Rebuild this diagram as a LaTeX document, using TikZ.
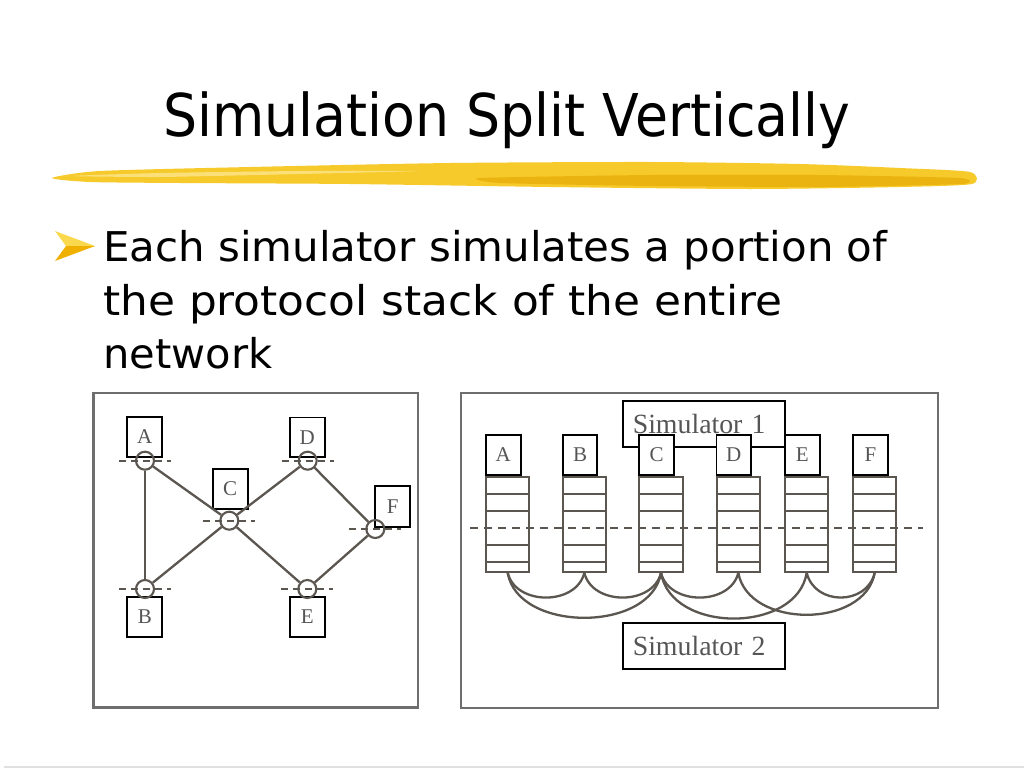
\documentclass[tikz,border=0pt]{standalone}
\usepackage{fontspec}
\usepackage{graphicx}
\setmainfont{Liberation Serif}
\newfontfamily\comicf{DejaVu Sans}
\definecolor{dgray}{HTML}{5B5650}
\definecolor{labgray}{HTML}{555555}
\definecolor{framegray}{HTML}{6E6E6E}
\definecolor{brushA}{HTML}{F6CA2A}
\definecolor{brushB}{HTML}{EBB30F}
\definecolor{brushC}{HTML}{FBE07A}
\definecolor{arrowlight}{HTML}{FAD94E}
\definecolor{arrowdark}{HTML}{EFB000}
\begin{document}
\begin{tikzpicture}[x=1pt,y=-1pt,
  lbox/.style={draw=black, line width=1.9pt, fill=white, minimum width=35pt, minimum height=39.5pt, inner sep=0pt, text=labgray, font=\fontsize{21}{24}\selectfont},
  port/.style={circle, draw=dgray, line width=2.1pt, minimum size=18pt, inner sep=0pt},
  link/.style={draw=dgray, line width=2.3pt},
  cutline/.style={draw=dgray, line width=2.3pt, dash pattern=on 7pt off 5pt},
  stackbox/.style={draw=dgray, line width=2.2pt, fill=white, minimum width=43.3pt, minimum height=94.4pt, inner sep=0pt},
  stackline/.style={draw=dgray, line width=2.2pt},
  frame/.style={draw=framegray, line width=2.3pt},
  simbox/.style={draw=black, line width=1.9pt, fill=white, minimum width=162.3pt, minimum height=46.3pt, text width=142pt, inner xsep=10pt, inner ysep=0pt, align=left, text=labgray, font=\fontsize{27.8}{30}\selectfont},
  rbox/.style={lbox, minimum width=34.7pt, minimum height=40pt},
  bodytext/.style={anchor=base west, inner sep=0pt, text=black}
]
\useasboundingbox (0,0) rectangle (1024,768);
\fill[white] (0,0) rectangle (1024,768);

% ---- title ----
\node[bodytext] (title) at (163,136.7) {\resizebox{687pt}{\height}{\comicf\fontsize{59}{70}\selectfont Simulation Split Vertically}};

% ---- brush stroke ----
\fill[brushA] plot[smooth cycle, tension=0.4] coordinates {(52,178) (100,171) (250,167) (450,163) (650,162) (800,164) (900,168) (970,172) (972,184) (900,187) (750,189) (550,187) (350,184) (180,183) (90,182)};
\fill[brushB] plot[smooth cycle, tension=0.3] coordinates {(480,178) (650,175) (820,175) (960,178) (962,184) (820,187) (650,186) (500,183)};
\fill[brushC] plot[smooth cycle, tension=0.3] coordinates {(70,176) (160,173) (300,171) (420,171) (300,174) (160,177)};

% ---- bullet ----
\fill[arrowlight] (55,231) -- (95,246) -- (66,246) -- cycle;
\fill[arrowdark] (55,261) -- (95,246) -- (66,246) -- cycle;
\node[bodytext] (l1) at (103,261.5) {\resizebox{784pt}{\height}{\comicf\fontsize{41}{50}\selectfont Each simulator simulates a portion of}};
\node[bodytext] (l2) at (103,315) {\resizebox{679pt}{\height}{\comicf\fontsize{41}{50}\selectfont the protocol stack of the entire}};
\node[bodytext] (l3) at (103,368.5) {\resizebox{169pt}{\height}{\comicf\fontsize{41}{50}\selectfont network}};

% ---- frames ----
\draw[frame] (93.5,392.7) rectangle (418.3,707.5);
\draw[frame] (461,392.7) rectangle (938.3,708.3);

% ---- left diagram ----
\node[lbox] (A) at (144.8,437) {A};
\node[lbox] (B) at (144.8,617) {B};
\node[lbox] (C) at (230.2,489) {C};
\node[lbox] (D) at (307.2,437.2) {D};
\node[lbox] (E) at (307.2,617) {E};
\node[lbox, minimum height=40.7pt] (F) at (392.7,506.3) {F};

\node[port] (pa) at (145,460.7) {};
\node[port] (pb) at (145,589) {};
\node[port] (pc) at (229.3,520.7) {};
\node[port] (pd) at (307.7,460.7) {};
\node[port] (pe) at (307.3,589) {};
\node[port] (pf) at (375.3,529) {};

\foreach \p in {pa,pb,pc,pd,pe,pf}
  \draw[cutline] ([xshift=-26pt]\p.center) -- ([xshift=26pt]\p.center);

\draw[link] (pa) -- (pb);
\draw[link] (pa) -- (pc);
\draw[link] (pc) -- (pb);
\draw[link] (pc) -- (pd);
\draw[link] (pc) -- (pe);
\draw[link] (pd) -- (pf);
\draw[link] (pf) -- (pe);

% ---- right diagram ----
\node[simbox] (sim1) at (703.8,424.2) {Simulator 1};
\node[simbox] (sim2) at (703.8,646) {Simulator 2};

\node[rbox] (rA) at (503.3,455) {A};
\node[rbox] (rB) at (580,455) {B};
\node[rbox] (rC) at (656.7,455) {C};
\node[rbox] (rD) at (733.8,455) {D};
\node[rbox] (rE) at (802.2,455) {E};
\node[rbox] (rF) at (870.5,455) {F};

\node[stackbox] (sA) at (507.7,524.5) {};
\node[stackbox] (sB) at (584.3,524.5) {};
\node[stackbox] (sC) at (661,524.5) {};
\node[stackbox] (sD) at (738.3,524.5) {};
\node[stackbox] (sE) at (806.7,524.5) {};
\node[stackbox] (sF) at (874.7,524.5) {};

\foreach \s in {sA,sB,sC,sD,sE,sF}
  \foreach \o in {17.7,35,68.7,86}
    \draw[stackline] ([yshift=-\o pt]\s.north west) -- ([yshift=-\o pt]\s.north east);

\coordinate (dl) at (470,528.3);
\coordinate (dr) at (923,528.3);
\draw[cutline, dash pattern=on 8pt off 6pt] (dl) -- (dr);

\draw[link] (sA.south) .. controls +(8,33) and +(-8,33) .. (sB.south);
\draw[link] (sB.south) .. controls +(8,33) and +(-8,33) .. (sC.south);
\draw[link] (sC.south) .. controls +(8,33) and +(-8,33) .. (sD.south);
\draw[link] (sE.south) .. controls +(8,33) and +(-8,33) .. (sF.south);
\draw[link] (sA.south) .. controls +(10,60) and +(-10,60) .. (sC.south);
\draw[link] (sC.south) .. controls +(10,61) and +(-10,61) .. (sE.south);
\draw[link] (sD.south) .. controls +(10,56) and +(-10,56) .. (sF.south);

% ---- bottom rule ----
\coordinate (bl) at (4,767);
\coordinate (br) at (1024,767);
\draw[draw=black!12, line width=1.5pt] (bl) -- (br);
\end{tikzpicture}
\end{document}
